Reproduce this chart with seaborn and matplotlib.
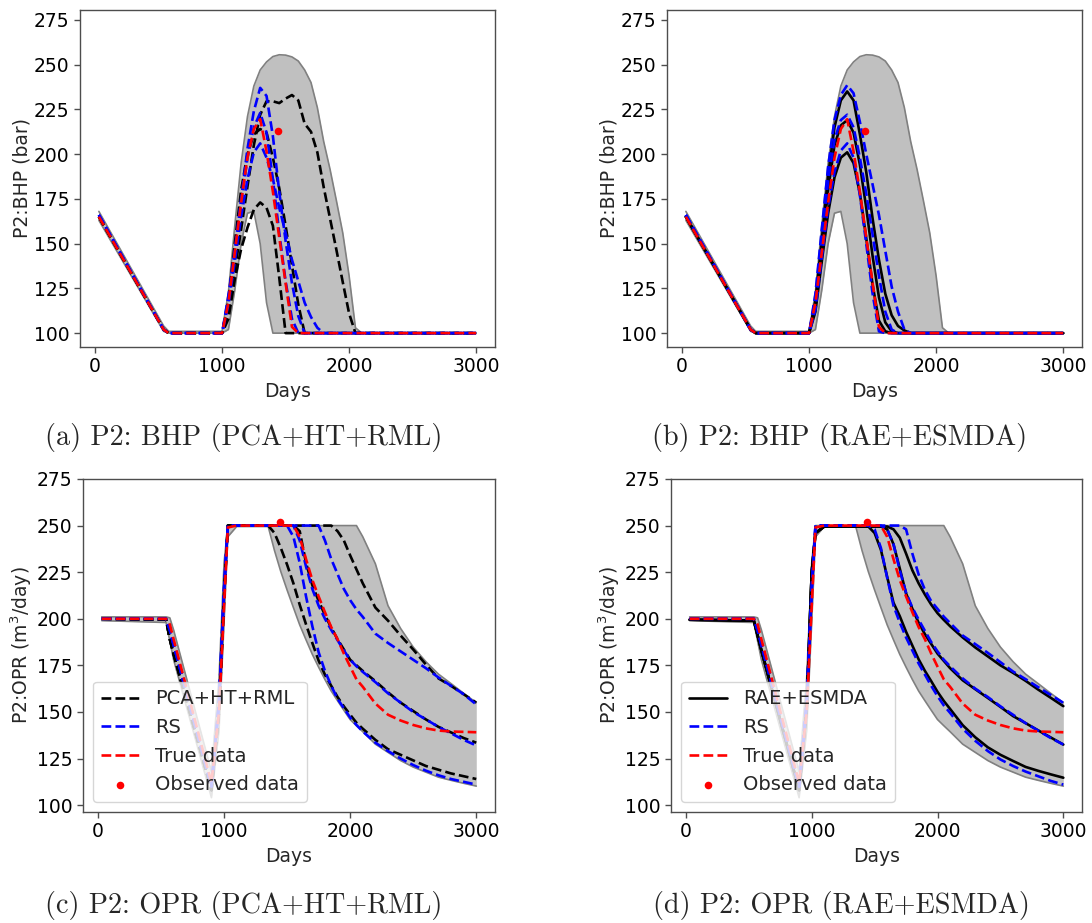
import numpy as np
import pandas as pd
import matplotlib
matplotlib.use("Agg")
import matplotlib.pyplot as plt
import seaborn as sns

# ---------------- data ----------------
# BHP time grid (days)
t_bhp = [30, 540, 580, 1000, 1050, 1100, 1150, 1200, 1250, 1300, 1350, 1400, 1450,
         1500, 1550, 1600, 1650, 1700, 1750, 1800, 1850, 1900, 1950, 2000, 2050, 2100, 3000]

bhp_band_lo = [163, 101, 100, 100, 102, 124, 150, 167, 168, 150, 117, 100, 100,
               100, 100, 100, 100, 100, 100, 100, 100, 100, 100, 100, 100, 100, 100]
bhp_band_hi = [168, 104, 101, 101, 123, 160, 195, 221, 238, 247, 251.5, 254.5, 255.5,
               255.3, 254.3, 252, 247, 240, 226, 207, 191.5, 174, 156, 132, 103, 100, 100]

bhp_pca_low = [165, 102, 100, 100, 108, 130, 147, 159, 169, 173, 170, 160, 131,
               100, 100, 100, 100, 100, 100, 100, 100, 100, 100, 100, 100, 100, 100]
bhp_pca_mid = [165, 102, 100, 100, 118, 150, 180, 200, 211, 214, 212, 198, 181,
               160, 138, 116, 100, 100, 100, 100, 100, 100, 100, 100, 100, 100, 100]
bhp_pca_high = [165, 102, 100, 100, 112, 135, 158, 182, 205, 222, 229.5, 229.5, 228.5,
                231, 233, 230, 217, 212.5, 201, 181.5, 164, 146.5, 128.5, 111, 100, 100, 100]

bhp_rs1_top = [166, 102, 100, 100, 121, 146.5, 175, 203, 224, 237, 232.5, 210, 179,
               151.5, 128, 109.5, 100, 100, 100, 100, 100, 100, 100, 100, 100, 100, 100]
bhp_rs1_mid = [166, 102, 100, 100, 119, 144, 172, 198, 215, 223, 212, 186, 156,
               129, 108, 100, 100, 100, 100, 100, 100, 100, 100, 100, 100, 100, 100]
bhp_rs1_low = [166, 102, 100, 100, 116, 140, 165, 186, 201, 206, 198, 186, 170,
               156, 141, 129, 117, 109, 103, 100, 100, 100, 100, 100, 100, 100, 100]

bhp_rae_top = [165, 102, 100, 100, 118, 152, 188, 215, 230, 235, 230, 211, 190,
               164, 141, 122, 110, 104, 101.5, 100, 100, 100, 100, 100, 100, 100, 100]
bhp_rae_mid = [165, 102, 100, 100, 116, 147, 180, 205, 216, 219, 212, 194, 170,
               143, 120, 106, 101, 100, 100, 100, 100, 100, 100, 100, 100, 100, 100]
bhp_rae_low = [165, 102, 100, 100, 112, 140, 167, 187, 198, 201, 195, 178, 153,
               127, 107, 101, 100, 100, 100, 100, 100, 100, 100, 100, 100, 100, 100]

bhp_rs2_top = [166, 102, 100, 100, 122, 158, 193, 219, 233, 238.5, 234, 218, 200,
               183, 166, 146, 126, 112, 102, 100, 100, 100, 100, 100, 100, 100, 100]
bhp_rs2_mid = [166, 102, 100, 100, 118, 152, 185, 208, 219, 222, 215, 198, 178,
               155, 132, 112, 102, 100, 100, 100, 100, 100, 100, 100, 100, 100, 100]
bhp_rs2_low = [166, 102, 100, 100, 113, 142, 170, 190, 202, 206, 198, 177, 150,
               122, 101, 100, 100, 100, 100, 100, 100, 100, 100, 100, 100, 100, 100]

bhp_true = [165, 102, 100, 100, 117, 145, 173, 198, 214, 219.5, 201.5, 179, 153.5,
            128, 103.5, 100, 100, 100, 100, 100, 100, 100, 100, 100, 100, 100, 100]

bhp_obs_t = [1440]
bhp_obs_v = [213]

# OPR time grid (days)
t_opr = [30, 540, 570, 600, 900, 960, 1000, 1030, 1100, 1350, 1400, 1450, 1500, 1550,
         1600, 1650, 1700, 1750, 1800, 1850, 1900, 1950, 2000, 2050, 2100, 2200, 2300,
         2400, 2500, 2600, 2700, 2800, 2900, 3000]

opr_band_lo = [199, 198, 188, 178, 104, 140, 198, 244, 249.5,
               249.5, 236.6, 225.3, 215.4, 206, 196.7, 188.7, 180.9, 174, 167.4, 161.2,
               156, 150.9, 145.9, 142.6, 139.4, 132.7, 128.3, 123.9, 120.4, 117.7, 115,
               113.3, 111.7, 110.2]
opr_band_hi = [201, 201, 200.5, 194, 118, 168, 230, 250, 250,
               250, 250, 250, 250, 250, 250, 250, 250, 250, 250, 250, 250, 250, 250, 250,
               244, 229.5, 207, 194.8, 184.8, 177, 170.3, 165.2, 160, 155]

opr_pca_low = [200, 199.5, 189, 181, 108, 150, 212, 250, 250,
               250, 246, 238, 229, 219, 207.5, 197, 187, 177.5, 170, 164, 158, 153,
               148.5, 144.2, 141, 135, 130, 127, 124, 121, 119, 117, 115.5, 114]
opr_pca_mid = [200, 199.5, 189, 181, 108, 150, 212, 250, 250,
               250, 250, 250, 250, 250, 247, 230, 218, 209.6, 202, 195.2, 189, 183.5,
               178, 175, 172, 166.5, 160.5, 155, 150.5, 146, 142, 139, 136, 133.5]
opr_pca_high = [200, 199.5, 189, 181, 108, 150, 212, 250, 250,
                250, 250, 250, 250, 250, 250, 250, 250, 250, 250, 250, 247, 242,
                234, 226.5, 219, 206, 199, 191, 183.5, 175.5, 168, 164, 159.5, 155]

opr_rs1_low = [200, 200, 194, 186, 110, 155, 216, 250, 250,
               250, 250, 250, 250, 244, 230, 212, 196, 182, 172, 164, 157, 152,
               147, 143, 139.5, 133.5, 129, 125, 121.5, 118.5, 116, 114, 112.5, 111]
opr_rs1_mid = [200, 200, 194, 186, 110, 155, 216, 250, 250,
               250, 250, 250, 250, 250, 242, 228, 216, 207, 200, 194, 188.5, 183,
               178, 174.5, 171.5, 166, 160, 155, 150, 146, 142, 138.5, 135, 132]
opr_rs1_high = [200, 200, 194, 186, 110, 155, 216, 250, 250,
                250, 250, 250, 250, 250, 250, 250, 250, 250, 242, 232, 224, 216,
                210, 205, 201, 192, 187, 182.5, 178, 173.5, 168.5, 164, 159.5, 154]

opr_rae_low = [199.5, 199, 191, 183, 108, 152, 225, 246, 249.5,
               249.5, 249.5, 249.5, 246, 237, 222.4, 208.6, 201.4, 193, 185.6, 178.2,
               172, 166.5, 160.8, 155.9, 151.6, 142.9, 136.4, 131, 127, 123.7, 120.5,
               118.4, 116.5, 114.7]
opr_rae_mid = [199.5, 199, 191, 183, 108, 152, 225, 246, 249.5,
               249.5, 249.5, 249.5, 249.5, 249.5, 248, 240, 227, 213.6, 205.4, 197.8,
               191.7, 186.5, 181.3, 177.4, 173.5, 167, 162.2, 157.5, 152.7, 147.8, 144,
               140.1, 136.3, 132.5]
opr_rae_high = [199.5, 199, 191, 183, 108, 152, 225, 246, 249.5,
                249.5, 249.5, 249.5, 249.5, 249.5, 249.5, 248, 243.5, 235, 226, 219,
                213, 207.6, 203, 199.4, 196, 190, 184.6, 179.8, 175, 171, 166.7, 162,
                157.6, 153.1]

opr_rs2_low = [200, 200, 194, 186, 110, 155, 216, 250, 250,
               250, 250, 250, 248, 238, 222, 207, 198, 190, 183, 176, 170, 164,
               158.5, 153.5, 149.5, 141, 134.5, 129, 124.5, 121, 118, 115.5, 113, 111]
opr_rs2_mid = [200, 200, 194, 186, 110, 155, 216, 250, 250,
               250, 250, 250, 250, 250, 248, 240, 226, 214, 206, 199.5, 193.5, 187.5,
               182.5, 178, 174.5, 168, 162.5, 158, 153, 148.5, 144, 140, 136, 132.5]
opr_rs2_high = [200, 200, 194, 186, 110, 155, 216, 250, 250,
                250, 250, 250, 250, 250, 250, 250, 250, 248, 235, 223.7, 215.5, 209.4,
                205.3, 201.1, 197.7, 191, 186.4, 181.7, 176.7, 171.7, 167.6, 163.3,
                159.1, 154.9]

opr_true = [200, 200, 197, 189, 112, 150, 207, 249, 250,
            250, 250, 250, 250, 250, 244, 232, 220.8, 212, 203.5, 195.5, 189, 181.3,
            174.3, 167.5, 163.5, 154.5, 148.5, 145.4, 143, 141.2, 140, 139.5, 139.3, 139.1]

opr_obs_t = [1440]
opr_obs_v = [252]

x_ticks = [0, 1000, 2000, 3000]
y_ticks = [100, 125, 150, 175, 200, 225, 250, 275]

captions = ["(a) P2: BHP (PCA+HT+RML)", "(b) P2: BHP (RAE+ESMDA)",
            "(c) P2: OPR (PCA+HT+RML)", "(d) P2: OPR (RAE+ESMDA)"]

# ---------------- style ----------------
sns.set_theme(style="ticks")
plt.rcParams["font.family"] = ["DejaVu Sans"]
plt.rcParams["axes.edgecolor"] = "0.3"
plt.rcParams["axes.linewidth"] = 1.0
plt.rcParams["xtick.color"] = "0.3"
plt.rcParams["ytick.color"] = "0.3"
plt.rcParams["xtick.labelcolor"] = "black"
plt.rcParams["ytick.labelcolor"] = "black"

FS = 13.5
W, H = 1092, 923
fig = plt.figure(figsize=(W / 100, H / 100), dpi=100)


def add_ax(l, r, t, b):
    return fig.add_axes([l / W, 1 - b / H, (r - l) / W, (b - t) / H])


ax_a = add_ax(80, 495, 10, 347)
ax_b = add_ax(667, 1082, 10, 347)
ax_c = add_ax(83, 495, 479, 812)
ax_d = add_ax(671, 1082, 479, 812)

LW = 1.9


def draw(ax, t, lo, hi, groups, true, obs_t, obs_v, ylabel, ylim, legend):
    ax.fill_between(t, lo, hi, color="#c0c0c0", zorder=1, linewidth=0)
    sns.lineplot(x=t, y=lo, ax=ax, color="0.5", lw=1.2, zorder=1.5, estimator=None, sort=False)
    sns.lineplot(x=t, y=hi, ax=ax, color="0.5", lw=1.2, zorder=1.5, estimator=None, sort=False)
    handles = []
    z = 2
    for series, color, ls, lab in groups:
        first = None
        for s in series:
            sns.lineplot(x=t, y=s, ax=ax, color=color, linestyle=ls, lw=LW,
                         zorder=z, estimator=None, sort=False)
            if first is None:
                first = ax.lines[-1]
        handles.append((first, lab))
        z += 1
    sns.lineplot(x=t, y=true, ax=ax, color="red", linestyle="--", lw=LW,
                 zorder=z, estimator=None, sort=False)
    handles.append((ax.lines[-1], "True data"))
    sns.scatterplot(x=obs_t, y=obs_v, ax=ax, color="red", s=30, linewidth=0, zorder=z + 1)
    handles.append((ax.collections[-1], "Observed data"))
    ax.set_xticks(x_ticks)
    ax.set_yticks(y_ticks)
    ax.set_ylim(*ylim)
    ax.tick_params(labelsize=FS, length=4, width=1)
    ax.set_xlabel("Days", fontsize=FS)
    ax.set_ylabel(ylabel, fontsize=FS, labelpad=2)
    if legend:
        ax.legend([h for h, _ in handles], [l for _, l in handles], loc="lower left",
                  fontsize=14, framealpha=0.8, edgecolor="0.8", fancybox=True)
    elif ax.get_legend() is not None:
        ax.get_legend().remove()


draw(ax_a, t_bhp, bhp_band_lo, bhp_band_hi,
     [([bhp_pca_low, bhp_pca_mid, bhp_pca_high], "black", "--", "PCA+HT+RML"),
      ([bhp_rs1_top, bhp_rs1_mid, bhp_rs1_low], "blue", "--", "RS")],
     bhp_true, bhp_obs_t, bhp_obs_v, "P2:BHP (bar)", (92.25, 280.5), False)
draw(ax_b, t_bhp, bhp_band_lo, bhp_band_hi,
     [([bhp_rae_top, bhp_rae_mid, bhp_rae_low], "black", "-", "RAE+ESMDA"),
      ([bhp_rs2_top, bhp_rs2_mid, bhp_rs2_low], "blue", "--", "RS")],
     bhp_true, bhp_obs_t, bhp_obs_v, "P2:BHP (bar)", (92.25, 280.5), False)
draw(ax_c, t_opr, opr_band_lo, opr_band_hi,
     [([opr_pca_low, opr_pca_mid, opr_pca_high], "black", "--", "PCA+HT+RML"),
      ([opr_rs1_low, opr_rs1_mid, opr_rs1_high], "blue", "--", "RS")],
     opr_true, opr_obs_t, opr_obs_v, "P2:OPR (m$^3$/day)", (96.3, 275), True)
draw(ax_d, t_opr, opr_band_lo, opr_band_hi,
     [([opr_rae_low, opr_rae_mid, opr_rae_high], "black", "-", "RAE+ESMDA"),
      ([opr_rs2_low, opr_rs2_mid, opr_rs2_high], "blue", "--", "RS")],
     opr_true, opr_obs_t, opr_obs_v, "P2:OPR (m$^3$/day)", (96.3, 275), True)

cap_pos = [(244, 437), (840, 437), (244, 905), (841, 905)]
for (cx, cy), cap in zip(cap_pos, captions):
    fig.text(cx / W, 1 - cy / H, cap, ha="center", va="center",
             fontsize=20.3, family=["cmr10", "DejaVu Serif"])

fig.savefig("out.png", dpi=100)
